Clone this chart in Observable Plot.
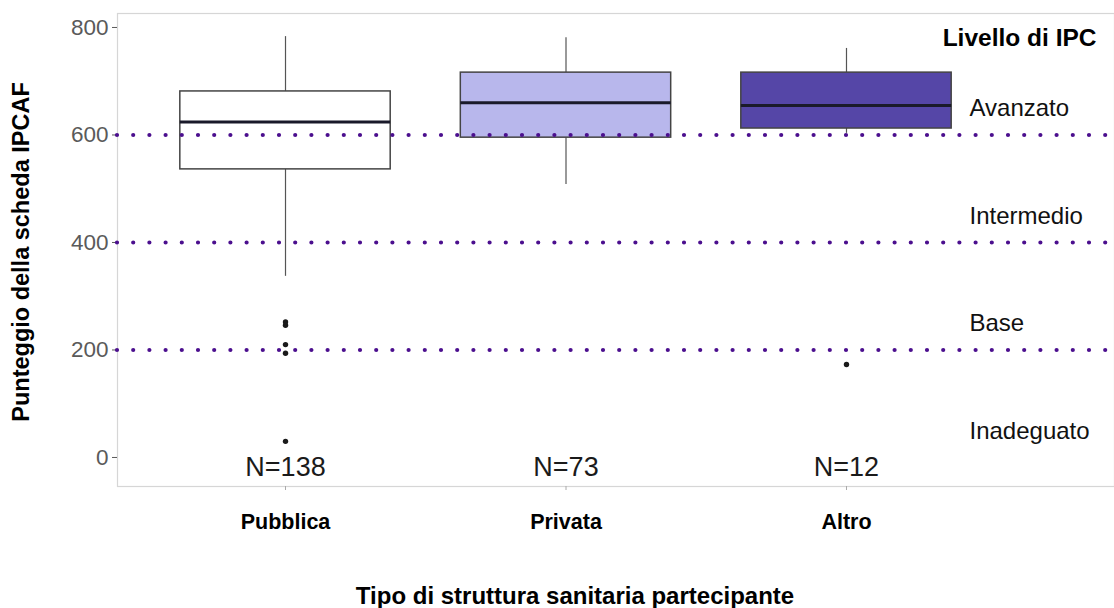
<!DOCTYPE html>
<html>
<head>
<meta charset="utf-8">
<script src="https://cdn.jsdelivr.net/npm/d3@7"></script>
<script src="https://cdn.jsdelivr.net/npm/@observablehq/plot@0.6"></script>
<style>
  html, body { margin: 0; padding: 0; background: #ffffff; }
  #chart svg { display: block; }
</style>
</head>
<body>
<div id="chart"></div>
<script>
// IPCAF score by type of participating health facility
const categories = ["Pubblica", "Privata", "Altro"];
const counts = [138, 73, 12];
const whiskerLow = [337, 508, 603];
const q1 = [536, 595, 612];
const medians = [624, 660, 655];
const q3 = [681, 716, 716];
const whiskerHigh = [783, 781, 761];

// Points beyond the whiskers
const outlierCategory = ["Pubblica", "Pubblica", "Pubblica", "Pubblica", "Pubblica", "Altro"];
const outlierValues = [252, 246, 210, 194, 30, 173];

// IPC level bands and their thresholds
const levelNames = ["Avanzato", "Intermedio", "Base", "Inadeguato"];
const levelLower = [600, 400, 200, 0];
const levelUpper = [800, 600, 400, 200];
const thresholds = [200, 400, 600];

const yTicks = [0, 200, 400, 600, 800];

const boxes = categories.map((c, i) => ({
  cat: c, n: counts[i], lo: whiskerLow[i], q1: q1[i], med: medians[i], q3: q3[i], hi: whiskerHigh[i]
}));
const outliers = outlierValues.map((v, i) => ({cat: outlierCategory[i], value: v}));
const levels = levelNames.map((name, i) => ({name, mid: (levelLower[i] + levelUpper[i]) / 2}));

const font = "'Liberation Sans', Arial, Helvetica, sans-serif";

const chart = Plot.plot({
  width: 1114,
  height: 608,
  marginLeft: 117,
  marginRight: 0,
  marginTop: 13,
  marginBottom: 122,
  style: {fontFamily: font, background: "#ffffff"},
  x: {domain: categories, range: [109.7, 1021.3], padding: 0.25, round: false},
  y: {domain: [-54, 826]},
  color: {domain: categories, range: ["#ffffff", "#b8b7ec", "#5546a7"]},
  marks: [
    Plot.frame({stroke: "#d6d6d6", strokeWidth: 1.2}),
    Plot.axisY({ticks: yTicks, tickSize: 5, tickPadding: 4, fontSize: 22.5, color: "#5a5a5a", label: null}),
    Plot.axisX({tickSize: 4, tickPadding: 23, fontSize: 21.5, fontWeight: "bold", stroke: "#aaaaaa", fill: "#000000", label: null}),
    // whiskers
    Plot.ruleX(boxes, {x: "cat", y1: "lo", y2: "q1", stroke: "#555555", strokeWidth: 1.2}),
    Plot.ruleX(boxes, {x: "cat", y1: "q3", y2: "hi", stroke: "#555555", strokeWidth: 1.2}),
    // boxes
    Plot.barY(boxes, {x: "cat", y1: "q1", y2: "q3", fill: "cat", stroke: "#444444", strokeWidth: 1.5}),
    // medians
    Plot.tickY(boxes, {x: "cat", y: "med", stroke: "#1a1a2a", strokeWidth: 3}),
    // outliers
    Plot.dot(outliers, {x: "cat", y: "value", r: 2.7, fill: "#1a1a1a", stroke: null}),
    // level thresholds
    Plot.ruleY(thresholds, {stroke: "#4b0f8e", strokeWidth: 4.2, strokeDasharray: "0 16.2", strokeLinecap: "round"}),
    // sample sizes
    Plot.text(boxes, {x: "cat", text: d => `N=${d.n}`, frameAnchor: "bottom", lineAnchor: "bottom", dy: -11, fontSize: 27, fill: "#1a1a1a"}),
    // level labels
    Plot.text(levels, {y: "mid", text: "name", frameAnchor: "right", textAnchor: "start", lineAnchor: "bottom", dx: -145, dy: 35, fontSize: 24, fill: "#111111"}),
    Plot.text(["Livello di IPC"], {frameAnchor: "top-right", textAnchor: "end", lineAnchor: "bottom", dx: -18, dy: 32, fontSize: 24.5, fontWeight: "bold", fill: "#000000"}),
    // axis titles
    Plot.text(["Punteggio della scheda IPCAF"], {frameAnchor: "left", rotate: -90, textAnchor: "middle", lineAnchor: "bottom", dx: -89, dy: 2, fontSize: 23.5, fontWeight: "bold", fill: "#000000"}),
    Plot.text(["Tipo di struttura sanitaria partecipante"], {frameAnchor: "bottom", textAnchor: "middle", lineAnchor: "bottom", dx: -41, dy: 117, fontSize: 24, fontWeight: "bold", fill: "#000000"})
  ]
});

document.getElementById("chart").appendChild(chart);
</script>
</body>
</html>
